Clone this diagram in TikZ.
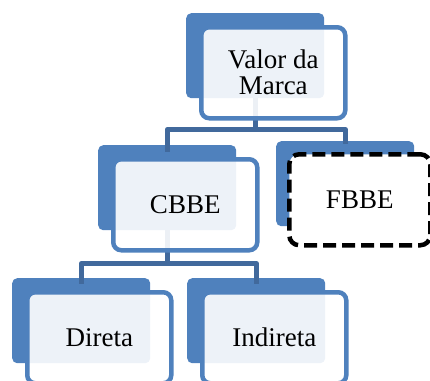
\documentclass[tikz,border=0pt]{standalone}
\usepackage{fontspec}
\setmainfont{Liberation Serif}
\definecolor{accent}{HTML}{4F81BD}
\definecolor{linkblue}{HTML}{41699C}
\begin{document}
\begin{tikzpicture}[x=1pt,y=-1pt,
  back/.style={fill=accent, draw=none, rounded corners=5pt, inner sep=0pt,
    minimum width=138pt, minimum height=85pt, anchor=north west},
  frame/.style={draw=accent, line width=4.5pt, fill=white, fill opacity=0.9,
    text opacity=1, rounded corners=8pt, inner sep=0pt, minimum width=144pt,
    minimum height=91pt, anchor=north west, align=center,
    font=\fontsize{27}{26}\selectfont},
  dashframe/.style={frame, draw=black, fill opacity=1, rounded corners=10pt,
    minimum width=141pt, dash pattern=on 13pt off 6pt},
  conn/.style={draw=linkblue, line width=5pt, line join=round}]
\useasboundingbox (0,0) rectangle (430,380);

% coloured backing plates
\node[back] (topb) at (186,13) {};
\node[back] (cbbeb) at (98,145) {};
\node[back] (fbbeb) at (276,141) {};
\node[back] (dirb) at (12,278) {};
\node[back] (indb) at (187,278) {};

% tree connectors
\draw[conn] (topb.south) -- ++(0,31) -| ([yshift=-7pt]cbbeb.north);
\draw[conn] (topb.south) -- ++(0,31) -| ([yshift=-3pt]fbbeb.north);
\draw[conn] (cbbeb.south) -- ++(0,33) -| ([yshift=-6pt]dirb.north);
\draw[conn] (cbbeb.south) -- ++(0,33) -| ([yshift=-6pt]indb.north);

% text frames
\node[frame] (top) at (199,25) {Valor da\\Marca};
\node[frame] (cbbe) at (111,157) {CBBE};
\node[dashframe] (fbbe) at (287,152) {FBBE};
\node[frame] (dir) at (25,290) {Direta};
\node[frame] (ind) at (200,290) {Indireta};
\end{tikzpicture}
\end{document}
